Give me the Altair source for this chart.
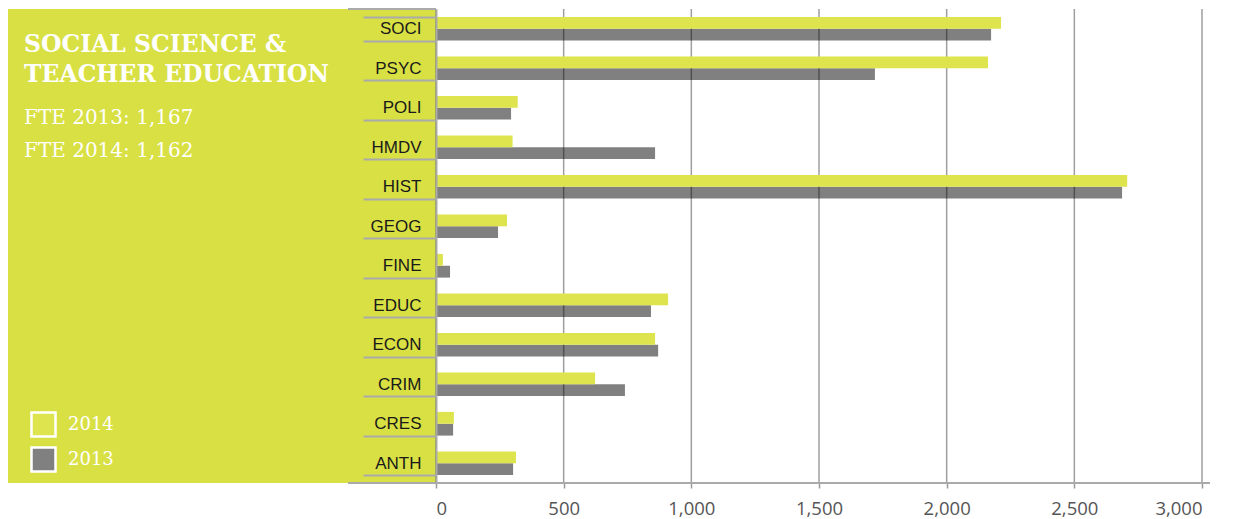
import altair as alt
import pandas as pd

categories = ["SOCI", "PSYC", "POLI", "HMDV", "HIST", "GEOG", "FINE", "EDUC", "ECON", "CRIM", "CRES", "ANTH"]
values_2014 = [2213, 2162, 320, 300, 2707, 278, 27, 909, 858, 623, 70, 313]
values_2013 = [2174, 1719, 294, 858, 2687, 243, 55, 842, 870, 740, 67, 302]
years = ["2014", "2013"]
title_lines = ["SOCIAL SCIENCE &", "TEACHER EDUCATION"]
fte_lines = ["FTE 2013: 1,167", "FTE 2014: 1,162"]
x_ticks = [0, 500, 1000, 1500, 2000, 2500, 3000]

PANEL = "#d9e044"
BAR_Y = "#dde44e"
BAR_G = "#808080"
W, H = 766, 474

rows = []
for c, a, b in zip(categories, values_2014, values_2013):
    rows.append({"dept": c, "year": "2014", "fte": a})
    rows.append({"dept": c, "year": "2013", "fte": b})
df = pd.DataFrame(rows)

one = pd.DataFrame({"k": [0]})

panel = alt.Chart(one).mark_rect(color=PANEL).encode(
    x=alt.value(-428), x2=alt.value(0), y=alt.value(0), y2=alt.value(H)
)

top_line = alt.Chart(one).mark_rule(color="#aaaaaa", strokeWidth=2).encode(
    x=alt.value(-88), x2=alt.value(0), y=alt.value(0)
)
bottom_line = alt.Chart(one).mark_rule(color="#aaaaaa", strokeWidth=2).encode(
    x=alt.value(-88), x2=alt.value(W + 8), y=alt.value(H)
)

base = alt.Chart(df).mark_bar().encode(
    y=alt.Y(
        "dept:N",
        sort=categories,
        scale=alt.Scale(paddingInner=0.4, paddingOuter=0.2),
        axis=alt.Axis(
            title=None,
            tickBand="extent",
            tickSize=73,
            tickColor="#aaaaaa",
            tickWidth=2,
            domainColor="#aaaaaa",
            domainWidth=2,
            labelPadding=-58,
            labelFont="Liberation Sans",
            labelFontSize=17,
            labelColor="#1a1a1a",
            grid=False,
            zindex=1,
        ),
    ),
    yOffset=alt.YOffset("year:N", sort=years, scale=alt.Scale(domain=years)),
    x=alt.X(
        "fte:Q",
        scale=alt.Scale(domain=[0, 3000], nice=False),
        axis=alt.Axis(
            title=None,
            values=x_ticks,
            format=",.0f",
            grid=False,
            domain=False,
            tickSize=5,
            tickColor="#999999",
            tickWidth=1.5,
            labelFont="Open Sans",
            labelFontSize=18.5,
            labelColor="#555555",
            labelPadding=11,
        ),
    ),
    color=alt.Color(
        "year:N",
        scale=alt.Scale(domain=years, range=[BAR_Y, BAR_G]),
        legend=alt.Legend(
            title=None,
            orient="none",
            legendX=-406,
            legendY=402,
            symbolType="square",
            symbolSize=576,
            symbolStrokeColor="white",
            symbolStrokeWidth=2.5,
            symbolOpacity=1,
            labelColor="white",
            labelFont="DejaVu Serif",
            labelFontSize=18,
            labelOffset=11,
            rowPadding=0,
        ),
    ),
)

gray_bars = base.transform_filter(alt.datum.year == "2013")
yellow_bars = base.transform_filter(alt.datum.year == "2014")

grid = alt.Chart(pd.DataFrame({"v": x_ticks})).mark_rule(
    color="black", opacity=0.38, strokeWidth=1.5
).encode(x="v:Q")

def text_layer(line, y, bold, size):
    return alt.Chart(pd.DataFrame({"t": [line]})).mark_text(
        align="left",
        baseline="alphabetic",
        font="DejaVu Serif",
        fontSize=size,
        fontWeight="bold" if bold else "normal",
        color="white",
    ).encode(x=alt.value(-412), y=alt.value(y), text="t:N")

texts = [
    text_layer(title_lines[0], 43, True, 23.5),
    text_layer(title_lines[1], 73, True, 23.5),
    text_layer(fte_lines[0], 115, False, 20),
    text_layer(fte_lines[1], 148, False, 20),
]

chart = alt.layer(panel, gray_bars, grid, yellow_bars, top_line, bottom_line, *texts).properties(
    width=W,
    height=H,
    padding={"left": 428, "top": 1, "right": 23, "bottom": 35},
    autosize=alt.AutoSizeParams(type="none"),
    background="white",
).configure_view(stroke=None)

chart.save("out.html", embed_options={"renderer": "svg", "actions": False})
